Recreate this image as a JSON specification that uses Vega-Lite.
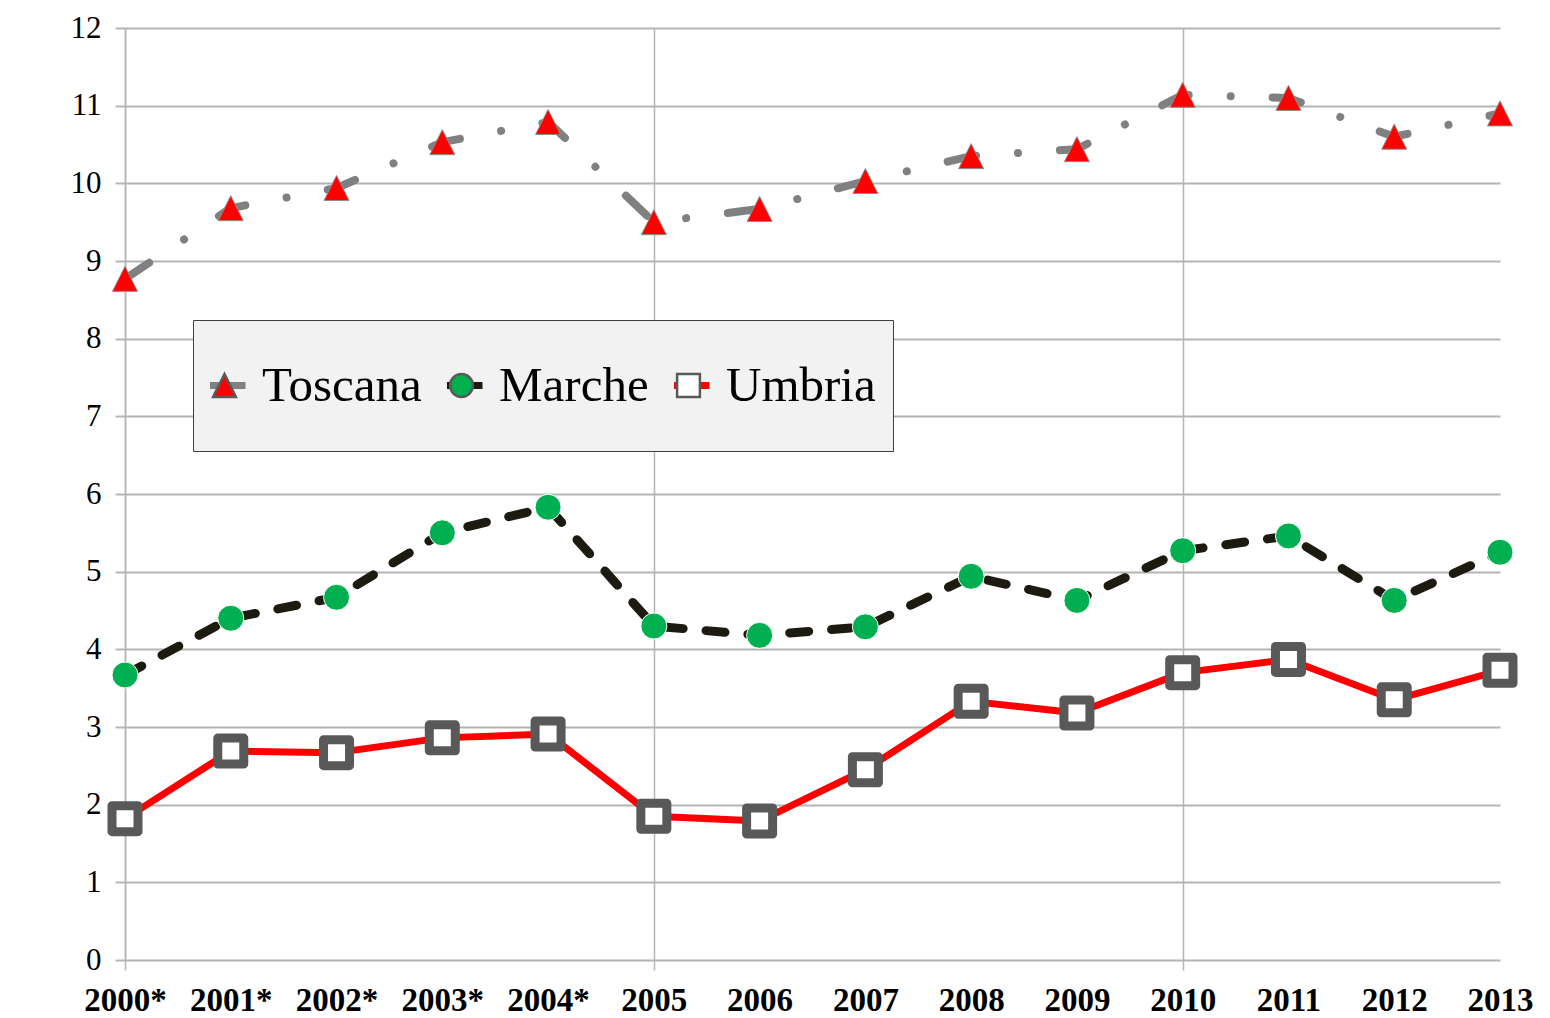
{
  "$schema": "https://vega.github.io/schema/vega-lite/v6.json",
  "width": 1375,
  "height": 932,
  "autosize": {"type": "none"},
  "padding": {"left": 125, "top": 28, "right": 50, "bottom": 58},
  "background": "white",
  "config": {
    "view": {"stroke": null},
    "legend": {
      "direction": "horizontal",
      "title": null,
      "padding": 17,
      "labelFont": "Liberation Serif",
      "labelFontSize": 49,
      "labelColor": "black",
      "labelOffset": 13,
      "labelLimit": 400,
      "symbolOffset": -10,
      "columnPadding": 25,
      "clipHeight": 97
    }
  },
  "data": {
    "values": [
      {"anno": "2000*", "regione": "Toscana", "valore": 8.77},
      {"anno": "2001*", "regione": "Toscana", "valore": 9.68},
      {"anno": "2002*", "regione": "Toscana", "valore": 9.94},
      {"anno": "2003*", "regione": "Toscana", "valore": 10.53},
      {"anno": "2004*", "regione": "Toscana", "valore": 10.79},
      {"anno": "2005", "regione": "Toscana", "valore": 9.5},
      {"anno": "2006", "regione": "Toscana", "valore": 9.67},
      {"anno": "2007", "regione": "Toscana", "valore": 10.03},
      {"anno": "2008", "regione": "Toscana", "valore": 10.35},
      {"anno": "2009", "regione": "Toscana", "valore": 10.44},
      {"anno": "2010", "regione": "Toscana", "valore": 11.14},
      {"anno": "2011", "regione": "Toscana", "valore": 11.1},
      {"anno": "2012", "regione": "Toscana", "valore": 10.6},
      {"anno": "2013", "regione": "Toscana", "valore": 10.9},
      {"anno": "2000*", "regione": "Marche", "valore": 3.67},
      {"anno": "2001*", "regione": "Marche", "valore": 4.4},
      {"anno": "2002*", "regione": "Marche", "valore": 4.67},
      {"anno": "2003*", "regione": "Marche", "valore": 5.5},
      {"anno": "2004*", "regione": "Marche", "valore": 5.83},
      {"anno": "2005", "regione": "Marche", "valore": 4.3},
      {"anno": "2006", "regione": "Marche", "valore": 4.18},
      {"anno": "2007", "regione": "Marche", "valore": 4.29},
      {"anno": "2008", "regione": "Marche", "valore": 4.94},
      {"anno": "2009", "regione": "Marche", "valore": 4.63},
      {"anno": "2010", "regione": "Marche", "valore": 5.27},
      {"anno": "2011", "regione": "Marche", "valore": 5.46},
      {"anno": "2012", "regione": "Marche", "valore": 4.63},
      {"anno": "2013", "regione": "Marche", "valore": 5.25},
      {"anno": "2000*", "regione": "Umbria", "valore": 1.82},
      {"anno": "2001*", "regione": "Umbria", "valore": 2.69},
      {"anno": "2002*", "regione": "Umbria", "valore": 2.67},
      {"anno": "2003*", "regione": "Umbria", "valore": 2.86},
      {"anno": "2004*", "regione": "Umbria", "valore": 2.91},
      {"anno": "2005", "regione": "Umbria", "valore": 1.85},
      {"anno": "2006", "regione": "Umbria", "valore": 1.79},
      {"anno": "2007", "regione": "Umbria", "valore": 2.45},
      {"anno": "2008", "regione": "Umbria", "valore": 3.33},
      {"anno": "2009", "regione": "Umbria", "valore": 3.18},
      {"anno": "2010", "regione": "Umbria", "valore": 3.7},
      {"anno": "2011", "regione": "Umbria", "valore": 3.87},
      {"anno": "2012", "regione": "Umbria", "valore": 3.35},
      {"anno": "2013", "regione": "Umbria", "valore": 3.73}
    ]
  },
  "encoding": {
    "x": {
      "field": "anno",
      "type": "ordinal",
      "scale": {"type": "point", "padding": 0, "domain": ["2000*", "2001*", "2002*", "2003*", "2004*", "2005", "2006", "2007", "2008", "2009", "2010", "2011", "2012", "2013"]},
      "axis": {
        "title": null,
        "domain": false,
        "grid": true,
        "gridColor": "#b4b4b4",
        "gridWidth": 1.5,
        "gridOpacity": {"condition": {"test": "indexof(['2000*','2005','2010'], datum.value) >= 0", "value": 1}, "value": 0},
        "ticks": true,
        "tickSize": 10,
        "tickColor": "#b4b4b4",
        "tickWidth": 1.5,
        "tickOpacity": {"condition": {"test": "indexof(['2000*','2005','2010'], datum.value) >= 0", "value": 1}, "value": 0},
        "labelAngle": 0,
        "labelFont": "Liberation Serif",
        "labelFontWeight": "bold",
        "labelFontSize": 33,
        "labelColor": "black",
        "labelPadding": 14
      }
    },
    "y": {
      "field": "valore",
      "type": "quantitative",
      "scale": {"domain": [0, 12], "nice": false},
      "axis": {
        "title": null,
        "values": [0, 1, 2, 3, 4, 5, 6, 7, 8, 9, 10, 11, 12],
        "grid": true,
        "gridColor": "#b4b4b4",
        "gridWidth": 2,
        "domain": true,
        "domainColor": "#b4b4b4",
        "domainWidth": 1.5,
        "ticks": true,
        "tickSize": 10,
        "tickColor": "#b4b4b4",
        "tickWidth": 2,
        "labelFont": "Liberation Serif",
        "labelFontSize": 31,
        "labelColor": "black",
        "labelPadding": 14
      }
    }
  },
  "layer": [
    {
      "transform": [{"filter": "datum.regione === 'Toscana'"}],
      "mark": {"type": "line", "strokeWidth": 8, "strokeDash": [29, 42, 0.01, 42], "strokeCap": "round", "strokeJoin": "round"},
      "encoding": {
        "stroke": {
          "field": "regione", "type": "nominal", "sort": ["Toscana", "Marche", "Umbria"],
          "scale": {"range": ["#808080", "#1d1a10", "#ff0000"]},
          "legend": {"orient": "none", "legendX": 68, "legendY": 292, "fillColor": "#f2f2f2", "strokeColor": "#3f3f3f", "zindex": 1, "symbolType": "stroke", "symbolSize": 1764, "symbolStrokeWidth": 7, "symbolDash": [1, 0]}
        }
      }
    },
    {
      "transform": [{"filter": "datum.regione === 'Marche'"}],
      "mark": {"type": "line", "strokeWidth": 9, "strokeDash": [19, 23], "strokeCap": "round", "strokeJoin": "round"},
      "encoding": {
        "stroke": {
          "field": "regione", "type": "nominal", "sort": ["Toscana", "Marche", "Umbria"],
          "scale": {"range": ["#808080", "#1d1a10", "#ff0000"]},
          "legend": {"orient": "none", "legendX": 68, "legendY": 292, "fillColor": "#f2f2f2", "strokeColor": "#3f3f3f", "zindex": 1, "symbolType": "stroke", "symbolSize": 1764, "symbolStrokeWidth": 7, "symbolDash": [1, 0]}
        }
      }
    },
    {
      "transform": [{"filter": "datum.regione === 'Umbria'"}],
      "mark": {"type": "line", "strokeWidth": 7, "strokeJoin": "round"},
      "encoding": {
        "stroke": {
          "field": "regione", "type": "nominal", "sort": ["Toscana", "Marche", "Umbria"],
          "scale": {"range": ["#808080", "#1d1a10", "#ff0000"]},
          "legend": {"orient": "none", "legendX": 68, "legendY": 292, "fillColor": "#f2f2f2", "strokeColor": "#3f3f3f", "zindex": 1, "symbolType": "stroke", "symbolSize": 1764, "symbolStrokeWidth": 7, "symbolDash": [1, 0]}
        }
      }
    },
    {
      "transform": [{"filter": "datum.regione === 'Toscana'"}],
      "mark": {"type": "point", "filled": true, "opacity": 1, "size": 625, "stroke": "#8c8c8c", "strokeWidth": 1},
      "encoding": {
        "shape": {
          "field": "regione", "type": "nominal",
          "scale": {"domain": ["Toscana", "Marche", "Umbria"], "range": ["M0,-1L1,1L-1,1Z", "circle", "square"]},
          "legend": {"orient": "none", "legendX": 68, "legendY": 292, "labelOpacity": 0, "zindex": 2, "symbolSize": 520, "symbolStrokeWidth": 2.5, "symbolStrokeColor": "#595959", "symbolFillColor": "#ff0000", "symbolOpacity": 1}
        },
        "fill": {
          "field": "regione", "type": "nominal",
          "scale": {"domain": ["Toscana", "Marche", "Umbria"], "range": ["#ff0000", "#00b050", "#ffffff"]},
          "legend": {"orient": "none", "legendX": 68, "legendY": 292, "labelOpacity": 0, "zindex": 2, "symbolSize": 520, "symbolStrokeWidth": 2.5, "symbolStrokeColor": "#595959", "symbolFillColor": "#ff0000", "symbolOpacity": 1}
        }
      }
    },
    {
      "transform": [{"filter": "datum.regione === 'Marche'"}],
      "mark": {"type": "point", "filled": true, "opacity": 1, "size": 676, "stroke": "#ffffff", "strokeWidth": 1},
      "encoding": {
        "shape": {
          "field": "regione", "type": "nominal",
          "scale": {"domain": ["Toscana", "Marche", "Umbria"], "range": ["M0,-1L1,1L-1,1Z", "circle", "square"]},
          "legend": {"orient": "none", "legendX": 68, "legendY": 292, "labelOpacity": 0, "zindex": 2, "symbolSize": 520, "symbolStrokeWidth": 2.5, "symbolStrokeColor": "#595959", "symbolFillColor": "#ff0000", "symbolOpacity": 1}
        },
        "fill": {
          "field": "regione", "type": "nominal",
          "scale": {"domain": ["Toscana", "Marche", "Umbria"], "range": ["#ff0000", "#00b050", "#ffffff"]},
          "legend": {"orient": "none", "legendX": 68, "legendY": 292, "labelOpacity": 0, "zindex": 2, "symbolSize": 520, "symbolStrokeWidth": 2.5, "symbolStrokeColor": "#595959", "symbolFillColor": "#ff0000", "symbolOpacity": 1}
        }
      }
    },
    {
      "transform": [{"filter": "datum.regione === 'Umbria'"}],
      "mark": {"type": "point", "filled": true, "opacity": 1, "size": 676, "stroke": "#595959", "strokeWidth": 9, "strokeJoin": "round"},
      "encoding": {
        "shape": {
          "field": "regione", "type": "nominal",
          "scale": {"domain": ["Toscana", "Marche", "Umbria"], "range": ["M0,-1L1,1L-1,1Z", "circle", "square"]},
          "legend": {"orient": "none", "legendX": 68, "legendY": 292, "labelOpacity": 0, "zindex": 2, "symbolSize": 520, "symbolStrokeWidth": 2.5, "symbolStrokeColor": "#595959", "symbolFillColor": "#ff0000", "symbolOpacity": 1}
        },
        "fill": {
          "field": "regione", "type": "nominal",
          "scale": {"domain": ["Toscana", "Marche", "Umbria"], "range": ["#ff0000", "#00b050", "#ffffff"]},
          "legend": {"orient": "none", "legendX": 68, "legendY": 292, "labelOpacity": 0, "zindex": 2, "symbolSize": 520, "symbolStrokeWidth": 2.5, "symbolStrokeColor": "#595959", "symbolFillColor": "#ff0000", "symbolOpacity": 1}
        }
      }
    }
  ]
}
